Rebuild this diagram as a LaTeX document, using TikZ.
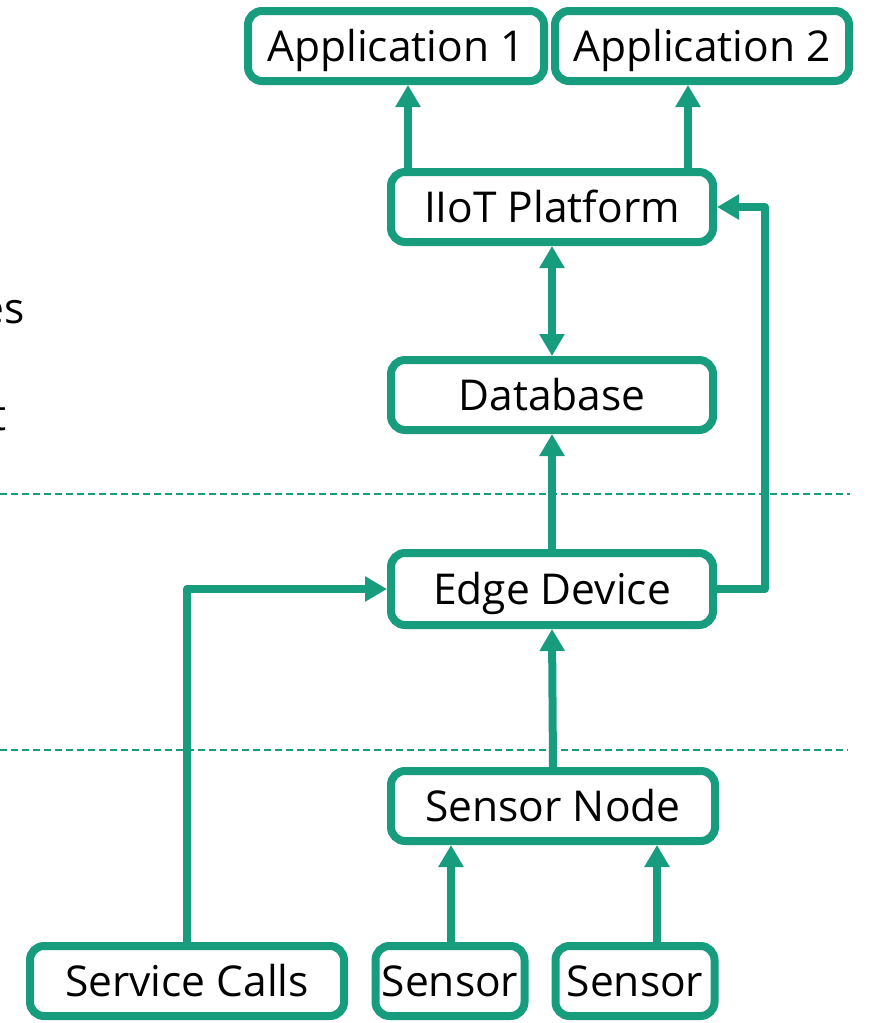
\documentclass[tikz,border=0pt]{standalone}
\usepackage{fontspec}
\setmainfont{Open Sans}
\usepackage{xcolor}
\usetikzlibrary{arrows.meta,positioning,calc}

\definecolor{iotgreen}{HTML}{179C7D}

\begin{document}
\begin{tikzpicture}[
  x=1pt, y=-1pt,
  every node/.style={font=\fontsize{42.5}{50}\selectfont},
  block/.style={rectangle, draw=iotgreen, line width=8pt, rounded corners=14pt, fill=white, minimum height=70pt, inner sep=0pt, text height=30pt, text depth=0pt},
  link/.style={draw=iotgreen, line width=8pt, line join=round},
  layer/.style={draw=iotgreen, line width=1.4pt, dash pattern=on 7pt off 4pt},
  >={Triangle[length=22pt, width=24pt]}
]
  \useasboundingbox (0,0) rectangle (869,1023);

  % cut-off side labels
  \node[anchor=base east, inner sep=0pt] (lbla) at (25,323) {es};
  \node[anchor=base east, inner sep=0pt] (lblb) at (7,430) {t};

  % layer separators
  \draw[layer] (0,494) -- (850,494);
  \draw[layer] (0,750) -- (848,750);

  \node[block, minimum width=296pt] (app1) at (396,46) {Application 1};
  \node[block, minimum width=294pt] (app2) at (702,46) {Application 2};
  \node[block, minimum width=322pt] (iiot) at (552,207) {IIoT Platform};
  \node[block, minimum width=322pt] (db) at (552,395) {Database};
  \node[block, minimum width=322pt, minimum height=72pt] (edge) at (552,589) {Edge Device};
  \node[block, minimum width=324pt] (snode) at (553,806) {Sensor Node};
  \node[block, minimum width=314pt] (svc) at (187,981) {Service Calls};
  \node[block, minimum width=149pt] (sen1) at (450,981) {Sensor};
  \node[block, minimum width=159pt] (sen2) at (635,981) {Sensor};

  % x positions of the off-centre links
  \coordinate (a1) at (408,0);
  \coordinate (a2) at (688,0);
  \coordinate (s1) at (451,0);
  \coordinate (s2) at (657,0);
  \coordinate (bus) at (765,0);

  \draw[link,->] (iiot.north -| a1) -- (app1.south -| a1);
  \draw[link,->] (iiot.north -| a2) -- (app2.south -| a2);
  \draw[link,<->] (iiot.south) -- (db.north);
  \draw[link,->] (edge.north) -- (db.south);
  \draw[link,->] (edge.east) -| (bus |- iiot.east) -- (iiot.east);
  \draw[link,->] (svc.north) |- (edge.west);
  \draw[link,->] (snode.north) -- (edge.south);
  \draw[link,->] (sen1.north -| s1) -- (snode.south -| s1);
  \draw[link,->] (sen2.north -| s2) -- (snode.south -| s2);
\end{tikzpicture}
\end{document}
